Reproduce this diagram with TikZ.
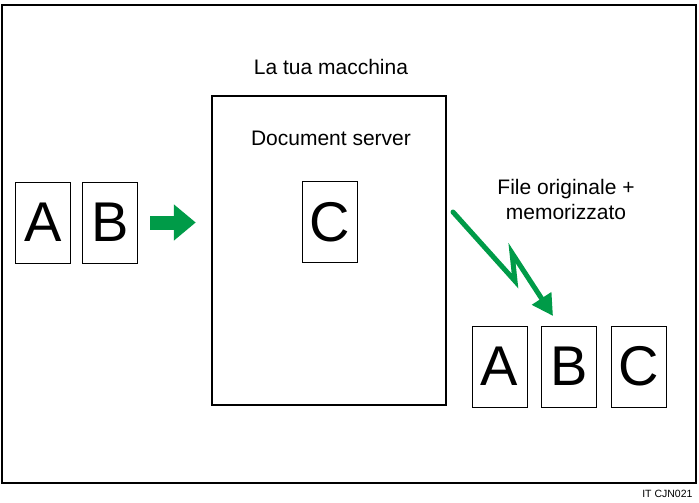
\documentclass[tikz,border=0pt]{standalone}
\usepackage{fontspec}
\setmainfont{Liberation Sans}
\usetikzlibrary{arrows.meta,calc}
\definecolor{greenarrow}{RGB}{0,155,72}
\def\pagew{55pt}
\def\pageh{81pt}
\tikzset{
  page/.style={draw, line width=1pt, minimum width=\pagew, minimum height=\pageh,
    inner sep=0pt, font=\fontsize{56}{60}\selectfont},
  caption/.style={font=\fontsize{21}{25}\selectfont, align=center},
  flow/.style={draw=greenarrow, line width=14pt, -{Triangle[width=35pt,length=22pt]}},
  bolt/.style={draw=greenarrow, line width=5pt, line cap=round, line join=miter,
    -{Triangle[width=22pt,length=21pt]}}
}

\begin{document}
\begin{tikzpicture}[x=1pt, y=-1pt]
\useasboundingbox (0,0) rectangle (699,503);
% frame
\draw[line width=2.5pt] (2,5) rectangle (696,483);
\node[font=\fontsize{10.5}{12}\selectfont, anchor=east] (code) at (696,494) {IT CJN021};

% the machine
\node[caption] (machine) at (331,67) {La tua macchina};
\node[draw, line width=2.5pt, minimum width=234pt, minimum height=309pt] (server) at (329,250.5) {};
\node[caption] (docserver) at (331,138) {Document server};
\node[page] (pC) at (330,222) {C};

% originals
\node[page] (pA) at (43,222.5) {A};
\node[page] (pB) at (110,222.5) {B};
\draw[flow] ([xshift=12pt]pB.east) -- ([xshift=-15pt]pB.east -| server.west);

% output
\node[page] (qA) at (499.5,366.5) {A};
\node[page] (qB) at (569,366.5) {B};
\node[page] (qC) at (638.5,366.5) {C};
\node[caption] (stored) at (566,199) {File originale +\\memorizzato};

\coordinate (boltA) at (453,212);
\coordinate (boltB) at (515,281);
\coordinate (boltC) at (512,253);
\coordinate (drop) at (553,316);
\draw[bolt] (boltA) -- (boltB) -- (boltC) -- (drop);
\end{tikzpicture}
\end{document}
